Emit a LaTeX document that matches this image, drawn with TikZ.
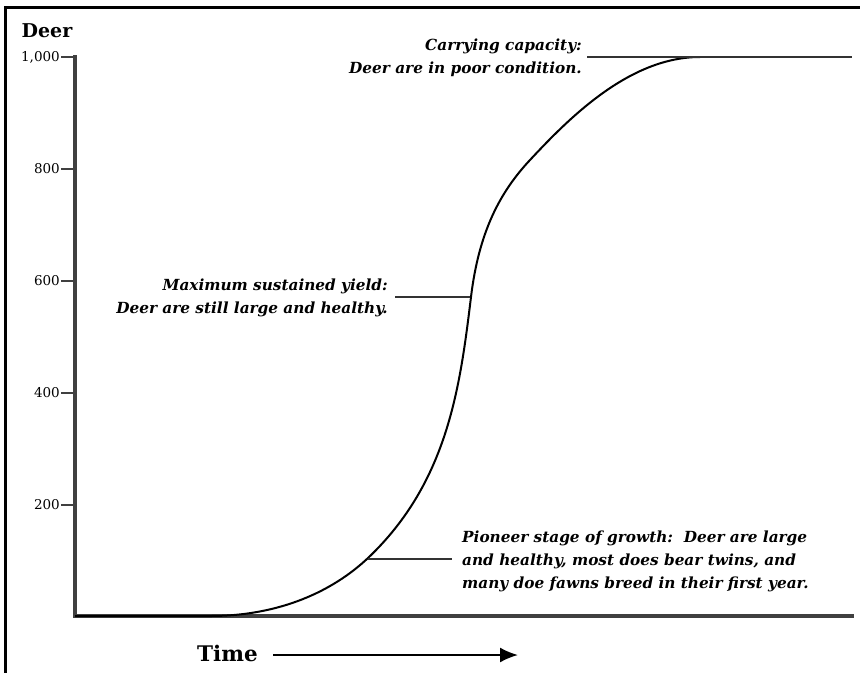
\documentclass[tikz,border=0pt]{standalone}
\usepackage{fontspec}
\setmainfont{DejaVu Serif}
\usetikzlibrary{arrows.meta}
\begin{document}
\begin{tikzpicture}[x=1pt,y=-1pt,
  frameline/.style={line width=3pt,black},
  axisline/.style={line width=3.2pt,black!75},
  leader/.style={line width=2.6pt,black!80},
  curveline/.style={line width=2pt,black},
  ticklbl/.style={font=\fontsize{13.5}{15}\selectfont,anchor=east,inner sep=0pt},
  note/.style={font=\fontsize{15.3}{23}\selectfont\bfseries\itshape,inner sep=0pt,align=#1},
  axtitle/.style={font=\fontsize{19}{22}\selectfont\bfseries,inner sep=0pt}]
\useasboundingbox (0,0) rectangle (860,673);
% frame
\coordinate (ftl) at (5,7);
\coordinate (ftr) at (860,7);
\coordinate (fbl) at (5,673);
\draw[frameline] (ftr) -- (ftl) -- (fbl);
% axes
\coordinate (ytop) at (75,57);
\coordinate (orig) at (75,616);
\coordinate (xend) at (852,616);
\draw[axisline,line cap=rect] (ytop) -- (orig) -- (xend);
% ticks and labels
\foreach \v/\yy in {1{,}000/57,800/169,600/281,400/393,200/505}{
  \draw[line width=2.4pt,black!75] (61,\yy) -- (75,\yy);
  \node[ticklbl] at (60,\yy) {\v};
}
\node[axtitle] (deer) at (47,31) {Deer};
% curve
\coordinate (cA) at (210,616);
\coordinate (cB) at (368,558);
\coordinate (cC) at (471,297);
\coordinate (cE) at (530,160);
\coordinate (cF) at (700,57);
\draw[curveline,line join=round] (orig) -- (cA)
  .. controls (280,616) and (333,591) .. (cB)
  .. controls (448,482) and (460,387) .. (cC)
  .. controls (478.8,232) and (500,192) .. (cE)
  .. controls (570,117) and (630,57) .. (cF);
% carrying capacity
\coordinate (cc1) at (587,57);
\coordinate (cc2) at (852,57);
\draw[leader] (cc1) -- (cc2);
\node[note=right,anchor=north east] (cap) at (582,39)
  {Carrying capacity:\\Deer are in poor condition.};
% maximum sustained yield
\coordinate (my1) at (395,297);
\coordinate (my2) at (470,297);
\draw[leader] (my1) -- (my2);
\node[note=right,anchor=north east] (msy) at (388,279)
  {Maximum sustained yield:\\Deer are still large and healthy.};
% pioneer
\coordinate (pi1) at (368,559);
\coordinate (pi2) at (452,559);
\draw[leader] (pi1) -- (pi2);
\node[note=left,anchor=north west] (pio) at (462,531)
  {Pioneer stage of growth:\ \ Deer are large\\and healthy, most does bear twins, and\\many doe fawns breed in their first year.};
% time
\node[axtitle,font=\fontsize{21.5}{24}\selectfont\bfseries,anchor=west] (time) at (197,653) {Time};
\coordinate (ta1) at (273,655);
\coordinate (ta2) at (518,655);
\draw[line width=2pt,-{Latex[length=18pt,width=15pt]}] (ta1) -- (ta2);
\end{tikzpicture}
\end{document}
